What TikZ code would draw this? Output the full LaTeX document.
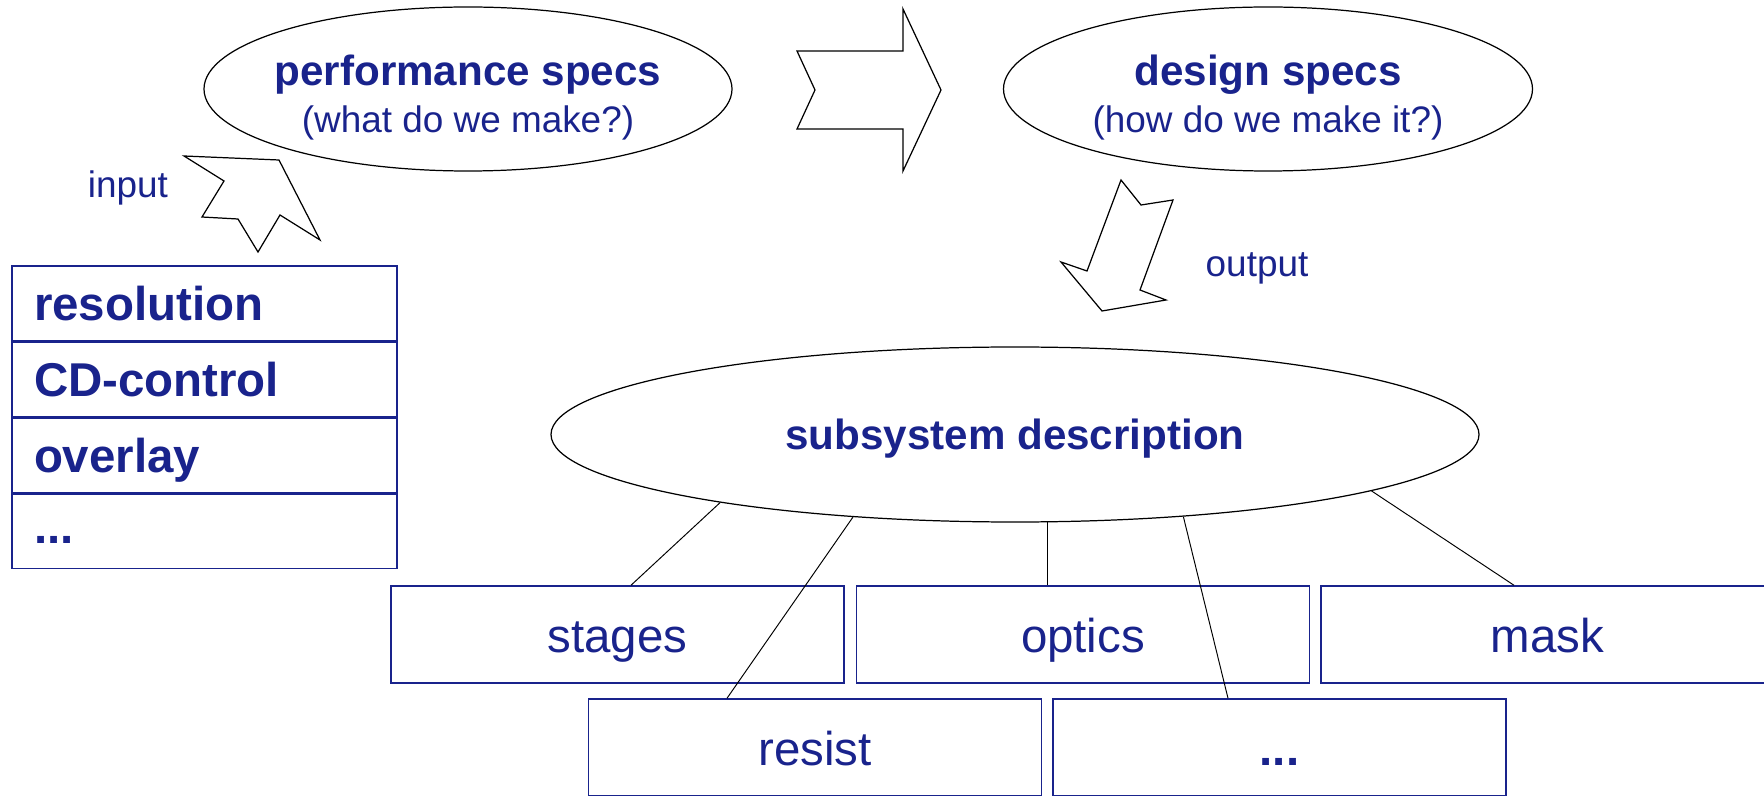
\documentclass[tikz,border=0pt]{standalone}
\usepackage{fontspec}
\setmainfont{Liberation Sans}
\usepackage{xcolor}
\usepackage{tikz}
\usetikzlibrary{shapes,positioning,calc}
\definecolor{navy}{RGB}{25,35,140}

\begin{document}
\begin{tikzpicture}
    % Define styles
    \tikzstyle{spec} = [text=navy, align=center, inner sep=0pt, font=\fontsize{24}{26.7}\selectfont\bfseries]
    \tikzstyle{specring} = [draw=black, line width=0.7pt]
    \tikzstyle{subsys} = [ellipse, draw=black, line width=0.7pt, text=navy, minimum width=18.56cm, minimum height=3.5cm, text depth=0pt, font=\fontsize{24}{26.7}\selectfont\bfseries]
    \tikzstyle{metric} = [rectangle, draw=navy, line width=0.85pt, text=navy, minimum height=1.49cm, text width=6.82cm, inner xsep=0.44cm, align=left, text height=20pt, text depth=0pt, font=\fontsize{27}{30}\selectfont\bfseries]
    \tikzstyle{subbox} = [rectangle, draw=navy, line width=0.85pt, text=navy, minimum width=9.06cm, minimum height=1.94cm, text height=20pt, text depth=0pt, font=\fontsize{27}{30}\selectfont]
    \tikzstyle{blockarrow} = [draw=black, line width=0.7pt, line join=miter]
    \tikzstyle{tag} = [text=navy, font=\fontsize{21}{24}\selectfont]
    \tikzstyle{link} = [draw=black, line width=0.55pt]

    \useasboundingbox (0,0) rectangle (35.28,15.9);
    \clip (0,0) rectangle (35.28,15.9);

    % Specs
    \node[spec] (perf) at (9.36,13.95) {performance specs\\{\mdseries\fontsize{21}{24}\selectfont (what do we make?)}};
    \draw[specring] (9.36,14.12) ellipse [x radius=5.28, y radius=1.64];
    \node[spec] (design) at (25.36,13.95) {design specs\\{\mdseries\fontsize{21}{24}\selectfont (how do we make it?)}};
    \draw[specring] (25.36,14.12) ellipse [x radius=5.29, y radius=1.64];

    % Block arrows
    \draw[blockarrow] (15.94,14.88) -- (18.06,14.88) -- (18.06,15.72) -- (18.82,14.10) -- (18.06,12.48) -- (18.06,13.32) -- (15.94,13.32) -- (16.30,14.10) -- cycle;
    \draw[blockarrow] (3.68,12.78) -- (5.58,12.70) -- (6.40,11.10) -- (5.60,11.60) -- (5.16,10.86) -- (4.76,11.52) -- (4.04,11.56) -- (4.48,12.28) -- cycle;
    \draw[blockarrow] (22.42,12.30) -- (22.82,11.80) -- (23.46,11.90) -- (22.80,10.10) -- (23.32,9.90) -- (22.04,9.68) -- (21.22,10.66) -- (21.74,10.48) -- cycle;
    \node[tag] (input) at (2.56,12.14) {input};
    \node[tag] (output) at (25.14,10.54) {output};

    % Performance metrics
    \node[metric] (resol) at (4.09,9.835) {resolution};
    \node[metric, below=0cm of resol] (cdctrl) {CD-control};
    \node[metric, below=0cm of cdctrl] (overlay) {overlay};
    \node[metric, below=0cm of overlay, text height=13.5pt] (moremetric) {...};

    % Subsystems
    \node[subsys] (sub) at (20.30,7.21) {subsystem description};
    \node[subbox] (stages) at (12.35,3.21) {stages};
    \node[subbox, right=0.22cm of stages] (optics) {optics};
    \node[subbox, right=0.2cm of optics] (mask) {mask};
    \node[subbox] (resist) at (16.30,0.95) {resist};
    \node[subbox, right=0.2cm of resist, font=\fontsize{27}{30}\selectfont\bfseries] (moresub) {...};

    % Links
    \draw[link] (sub.193) -- ($(stages.north)+(0.27,0)$);
    \draw[link] (sub.207) -- ($(resist.north)+(-1.76,0)$);
    \draw[link] (sub.290) -- (sub.290 |- optics.north);
    \draw[link] (sub.334) -- ($(moresub.north)+(-1.03,0)$);
    \draw[link] (sub.351) -- ($(mask.north)+(-0.67,0)$);
\end{tikzpicture}
\end{document}
